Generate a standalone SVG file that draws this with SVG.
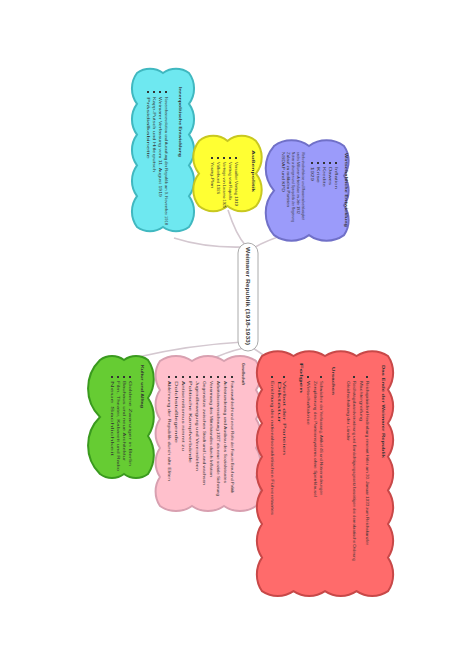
<svg xmlns="http://www.w3.org/2000/svg" width="474" height="669" viewBox="0 0 474 669">
<style>
.t{font-family:"Liberation Sans",Arial,sans-serif;font-size:4.2px;fill:#333}
.h{font-family:"Liberation Sans",Arial,sans-serif;font-size:4.4px;font-weight:bold;fill:#333}
.c{font-family:"Liberation Sans",Arial,sans-serif;font-size:6px;font-weight:bold;fill:#444}
.b{fill:#333}
.con{fill:none;stroke:#d4c8d0;stroke-width:1.6}
.cloud{stroke-width:2}
</style>
<rect width="474" height="669" fill="#ffffff"/>
<g id="connectors">
<path class="con" d="M174,238 Q205,248 243,247"/>
<path class="con" d="M228,210 Q236,235 246,246"/>
<path class="con" d="M288,234 Q266,240 252,249"/>
<path class="con" d="M138,357 Q190,345 243,342"/>
<path class="con" d="M210,360 Q226,352 244,348"/>
<path class="con" d="M270,360 Q258,351 251,347"/>
</g>
<g id="center">
<rect x="238" y="243" width="20" height="108" rx="10" fill="#ffffff" stroke="#aaaaaa" stroke-width="1"/>
<text class="c" transform="translate(246,247) rotate(90)" textLength="98" lengthAdjust="spacingAndGlyphs">Weimarer Republik (1918-1933)</text>
</g>
<g id="n-cyan">
<path class="cloud" fill="#6ee8f0" stroke="#40b8c0" d="M137,73 a22,22 0 0 1 26,0 a22,22 0 0 1 26,0 a26,26 0 0 1 0,30.8 a26,26 0 0 1 0,30.8 a26,26 0 0 1 0,30.8 a26,26 0 0 1 0,30.8 a26,26 0 0 1 0,30.8 a22,22 0 0 1 -26,0 a22,22 0 0 1 -26,0 a26,26 0 0 1 0,-30.8 a26,26 0 0 1 0,-30.8 a26,26 0 0 1 0,-30.8 a26,26 0 0 1 0,-30.8 a26,26 0 0 1 0,-30.8 z"/>
<text class="h" transform="translate(178.5,87) rotate(90)" textLength="70" lengthAdjust="spacingAndGlyphs">Innenpolitische Entwicklung</text>
<rect class="b" x="165" y="91" width="2" height="2"/><text class="t" transform="translate(164.5,97) rotate(90)" textLength="128" lengthAdjust="spacingAndGlyphs">Novemberrevolution und Ausrufung der Republik am 9. November 1918</text>
<rect class="b" x="159" y="91" width="2" height="2"/><text class="t" transform="translate(158.5,97) rotate(90)" textLength="100" lengthAdjust="spacingAndGlyphs">Weimarer Verfassung vom 11. August 1919</text>
<rect class="b" x="153" y="91" width="2" height="2"/><text class="t" transform="translate(152.5,97) rotate(90)" textLength="75" lengthAdjust="spacingAndGlyphs">Kapp-Putsch und Hitlerputsch</text>
<rect class="b" x="147" y="91" width="2" height="2"/><text class="t" transform="translate(146.5,97) rotate(90)" textLength="62" lengthAdjust="spacingAndGlyphs">Präsidialkabinette</text>
</g>
<g id="n-yellow">
<path class="cloud" fill="#ffff33" stroke="#c8c820" d="M199,141 a22,22 0 0 1 28.5,0 a22,22 0 0 1 28.5,0 a26,26 0 0 1 0,32.5 a26,26 0 0 1 0,32.5 a22,22 0 0 1 -28.5,0 a22,22 0 0 1 -28.5,0 a26,26 0 0 1 0,-32.5 a26,26 0 0 1 0,-32.5 z"/>
<text class="h" transform="translate(251.5,150) rotate(90)" textLength="42" lengthAdjust="spacingAndGlyphs">Außenpolitik</text>
<rect class="b" x="235" y="157" width="2" height="2"/><text class="t" transform="translate(234.5,162) rotate(90)" textLength="44" lengthAdjust="spacingAndGlyphs">Versailler Vertrag 1919</text>
<rect class="b" x="229" y="157" width="2" height="2"/><text class="t" transform="translate(228.5,162) rotate(90)" textLength="38" lengthAdjust="spacingAndGlyphs">Vertrag von Rapallo</text>
<rect class="b" x="223" y="157" width="2" height="2"/><text class="t" transform="translate(222.5,162) rotate(90)" textLength="46" lengthAdjust="spacingAndGlyphs">Verträge von Locarno 1925</text>
<rect class="b" x="217" y="157" width="2" height="2"/><text class="t" transform="translate(216.5,162) rotate(90)" textLength="32" lengthAdjust="spacingAndGlyphs">Völkerbund 1926</text>
<rect class="b" x="211" y="157" width="2" height="2"/><text class="t" transform="translate(210.5,162) rotate(90)" textLength="26" lengthAdjust="spacingAndGlyphs">Young-Plan</text>
</g>
<g id="n-purple">
<path class="cloud" fill="#9b9bfa" stroke="#7070c8" d="M274,146 a30,30 0 0 1 35,0 a30,30 0 0 1 35,0 a26,26 0 0 1 0,29.7 a26,26 0 0 1 0,29.7 a26,26 0 0 1 0,29.7 a30,30 0 0 1 -35,0 a30,30 0 0 1 -35,0 a34,34 0 0 1 0,-44.5 a34,34 0 0 1 0,-44.5 z"/>
<text class="h" transform="translate(344.5,153) rotate(90)" textLength="74" lengthAdjust="spacingAndGlyphs">Wirtschaftliche Entwicklung</text>
<rect class="b" x="335" y="162" width="2" height="2"/><text class="t" transform="translate(334.5,167) rotate(90)" textLength="22" lengthAdjust="spacingAndGlyphs">Inflation</text>
<rect class="b" x="329" y="162" width="2" height="2"/><text class="t" transform="translate(328.5,167) rotate(90)" textLength="18" lengthAdjust="spacingAndGlyphs">Dawes</text>
<rect class="b" x="323" y="162" width="2" height="2"/><text class="t" transform="translate(322.5,167) rotate(90)" textLength="20" lengthAdjust="spacingAndGlyphs">Kredite</text>
<rect class="b" x="317" y="162" width="2" height="2"/><text class="t" transform="translate(316.5,167) rotate(90)" textLength="16" lengthAdjust="spacingAndGlyphs">Krise</text>
<rect class="b" x="311" y="162" width="2" height="2"/><text class="t" transform="translate(310.5,167) rotate(90)" textLength="14" lengthAdjust="spacingAndGlyphs">1929</text>
<text class="t" transform="translate(301.5,152) rotate(90)" textLength="68" lengthAdjust="spacingAndGlyphs">Weltwirtschaftskrise und Massenarbeitslosigkeit</text>
<text class="t" transform="translate(296.5,152) rotate(90)" textLength="62" lengthAdjust="spacingAndGlyphs">sechs Millionen Arbeitslose im Jahr 1932</text>
<text class="t" transform="translate(291.5,152) rotate(90)" textLength="70" lengthAdjust="spacingAndGlyphs">Notverordnungen und Sparpolitik der Regierung</text>
<text class="t" transform="translate(286.5,152) rotate(90)" textLength="55" lengthAdjust="spacingAndGlyphs">Zulauf zu radikalen Parteien</text>
<text class="t" transform="translate(281.5,152) rotate(90)" textLength="40" lengthAdjust="spacingAndGlyphs">NSDAP und KPD</text>
</g>
<g id="n-green">
<path class="cloud" fill="#66cc33" stroke="#3a9a1e" d="M100,360 a20,20 0 0 1 24,0 a20,20 0 0 1 24,0 a34,34 0 0 1 0,38 a34,34 0 0 1 0,38 a34,34 0 0 1 0,38 a20,20 0 0 1 -24,0 a20,20 0 0 1 -24,0 a40,40 0 0 1 0,-57 a40,40 0 0 1 0,-57 z"/>
<text class="h" transform="translate(140.5,365) rotate(90)" textLength="43" lengthAdjust="spacingAndGlyphs">Kultur und Alltag</text>
<rect class="b" x="129" y="376" width="2" height="2"/><text class="t" transform="translate(128.5,381) rotate(90)" textLength="85" lengthAdjust="spacingAndGlyphs">Goldene Zwanziger in Berlin</text>
<rect class="b" x="123" y="376" width="2" height="2"/><text class="t" transform="translate(122.5,381) rotate(90)" textLength="80" lengthAdjust="spacingAndGlyphs">Bauhaus und neue Architektur</text>
<rect class="b" x="117" y="376" width="2" height="2"/><text class="t" transform="translate(116.5,381) rotate(90)" textLength="90" lengthAdjust="spacingAndGlyphs">Film, Theater, Kabarett und Radio</text>
<rect class="b" x="111" y="376" width="2" height="2"/><text class="t" transform="translate(110.5,381) rotate(90)" textLength="75" lengthAdjust="spacingAndGlyphs">Neue Sachlichkeit</text>
</g>
<g id="n-pink">
<path class="cloud" fill="#ffc0cc" stroke="#d8a0b0" d="M160,361 a28,28 0 0 1 32,0 a28,28 0 0 1 32,0 a28,28 0 0 1 32,0 a26,26 0 0 1 0,29 a26,26 0 0 1 0,29 a26,26 0 0 1 0,29 a26,26 0 0 1 0,29 a26,26 0 0 1 0,29 a28,28 0 0 1 -32,0 a28,28 0 0 1 -32,0 a28,28 0 0 1 -32,0 a26,26 0 0 1 0,-29 a26,26 0 0 1 0,-29 a26,26 0 0 1 0,-29 a26,26 0 0 1 0,-29 a26,26 0 0 1 0,-29 z"/>
<text class="h" transform="translate(241.5,363) rotate(90)" textLength="22" lengthAdjust="spacingAndGlyphs">Gesellschaft</text>
<rect class="b" x="231" y="376" width="2" height="2"/><text class="t" transform="translate(230.5,381) rotate(90)" textLength="112" lengthAdjust="spacingAndGlyphs">Frauenwahlrecht und neue Rolle der Frau in Beruf und Politik</text>
<rect class="b" x="224" y="376" width="2" height="2"/><text class="t" transform="translate(223.5,381) rotate(90)" textLength="102" lengthAdjust="spacingAndGlyphs">Achtstundentag und Ausbau des Sozialstaates</text>
<rect class="b" x="217" y="376" width="2" height="2"/><text class="t" transform="translate(216.5,381) rotate(90)" textLength="115" lengthAdjust="spacingAndGlyphs">Arbeitslosenversicherung 1927 als neue soziale Sicherung</text>
<rect class="b" x="210" y="376" width="2" height="2"/><text class="t" transform="translate(209.5,381) rotate(90)" textLength="96" lengthAdjust="spacingAndGlyphs">Verarmung des Mittelstandes durch Inflation</text>
<rect class="b" x="203" y="376" width="2" height="2"/><text class="t" transform="translate(202.5,381) rotate(90)" textLength="104" lengthAdjust="spacingAndGlyphs">Gegensätze zwischen Stadt und Land wachsen</text>
<rect class="b" x="196" y="376" width="2" height="2"/><text class="t" transform="translate(195.5,381) rotate(90)" textLength="90" lengthAdjust="spacingAndGlyphs">Jugendbewegung und Vereinsleben</text>
<rect class="b" x="189" y="376" width="2" height="2"/><text class="t" transform="translate(188.5,381) rotate(90)" textLength="82" lengthAdjust="spacingAndGlyphs">Politische Kampfverbände</text>
<rect class="b" x="182" y="376" width="2" height="2"/><text class="t" transform="translate(181.5,381) rotate(90)" textLength="70" lengthAdjust="spacingAndGlyphs">Antisemitismus nimmt zu</text>
<rect class="b" x="175" y="376" width="2" height="2"/><text class="t" transform="translate(174.5,381) rotate(90)" textLength="62" lengthAdjust="spacingAndGlyphs">Dolchstoßlegende</text>
<rect class="b" x="168" y="376" width="2" height="2"/><text class="t" transform="translate(167.5,381) rotate(90)" textLength="100" lengthAdjust="spacingAndGlyphs">Ablehnung der Republik durch alte Eliten</text>
</g>
<g id="n-red">
<path class="cloud" fill="#ff6b6b" stroke="#c84848" d="M262,356 a28,28 0 0 1 31.5,0 a28,28 0 0 1 31.5,0 a28,28 0 0 1 31.5,0 a28,28 0 0 1 31.5,0 a30,30 0 0 1 0,33.6 a30,30 0 0 1 0,33.6 a30,30 0 0 1 0,33.6 a30,30 0 0 1 0,33.6 a30,30 0 0 1 0,33.6 a30,30 0 0 1 0,33.6 a30,30 0 0 1 0,33.6 a28,28 0 0 1 -31.5,0 a28,28 0 0 1 -31.5,0 a28,28 0 0 1 -31.5,0 a28,28 0 0 1 -31.5,0 a30,30 0 0 1 0,-33.6 a30,30 0 0 1 0,-33.6 a30,30 0 0 1 0,-33.6 a30,30 0 0 1 0,-33.6 a30,30 0 0 1 0,-33.6 a30,30 0 0 1 0,-33.6 a30,30 0 0 1 0,-33.6 z"/>
<text class="h" transform="translate(381.5,365) rotate(90)" textLength="93" lengthAdjust="spacingAndGlyphs">Das Ende der Weimarer Republik</text>
<rect class="b" x="366" y="376" width="2" height="2"/><text class="t" transform="translate(365.5,381) rotate(90)" textLength="164" lengthAdjust="spacingAndGlyphs">Reichspräsident Hindenburg ernennt Hitler am 30. Januar 1933 zum Reichskanzler</text>
<text class="t" transform="translate(359.5,381) rotate(90)" textLength="40" lengthAdjust="spacingAndGlyphs">Machtergreifung</text>
<rect class="b" x="353" y="376" width="2" height="2"/><text class="t" transform="translate(352.5,381) rotate(90)" textLength="180" lengthAdjust="spacingAndGlyphs">Reichstagsbrandverordnung und Ermächtigungsgesetz beseitigen die demokratische Ordnung</text>
<text class="t" transform="translate(346.5,381) rotate(90)" textLength="60" lengthAdjust="spacingAndGlyphs">Gleichschaltung der Länder</text>
<text class="h" transform="translate(331.5,367) rotate(90)" textLength="28" lengthAdjust="spacingAndGlyphs">Ursachen</text>
<rect class="b" x="320" y="376" width="2" height="2"/><text class="t" transform="translate(319.5,381) rotate(90)" textLength="114" lengthAdjust="spacingAndGlyphs">Schwächen der Verfassung, Artikel 48 und Notverordnungen</text>
<text class="t" transform="translate(313.5,381) rotate(90)" textLength="116" lengthAdjust="spacingAndGlyphs">Zersplitterung des Parteiensystems ohne Sperrklausel</text>
<rect class="b" x="307" y="376" width="2" height="2"/><text class="t" transform="translate(306.5,381) rotate(90)" textLength="44" lengthAdjust="spacingAndGlyphs">Wirtschaftskrise</text>
<text class="h" transform="translate(299.5,363) rotate(90)" textLength="30" lengthAdjust="spacingAndGlyphs">Folgen</text>
<rect class="b" x="283" y="376" width="2" height="2"/><text class="t" transform="translate(282.5,381) rotate(90)" textLength="74" lengthAdjust="spacingAndGlyphs">Verbot der Parteien</text>
<text class="t" transform="translate(277.5,381) rotate(90)" textLength="42" lengthAdjust="spacingAndGlyphs">Diktatur</text>
<rect class="b" x="271" y="376" width="2" height="2"/><text class="t" transform="translate(270.5,381) rotate(90)" textLength="134" lengthAdjust="spacingAndGlyphs">Errichtung des nationalsozialistischen Führerstaates</text>
</g>
</svg>
